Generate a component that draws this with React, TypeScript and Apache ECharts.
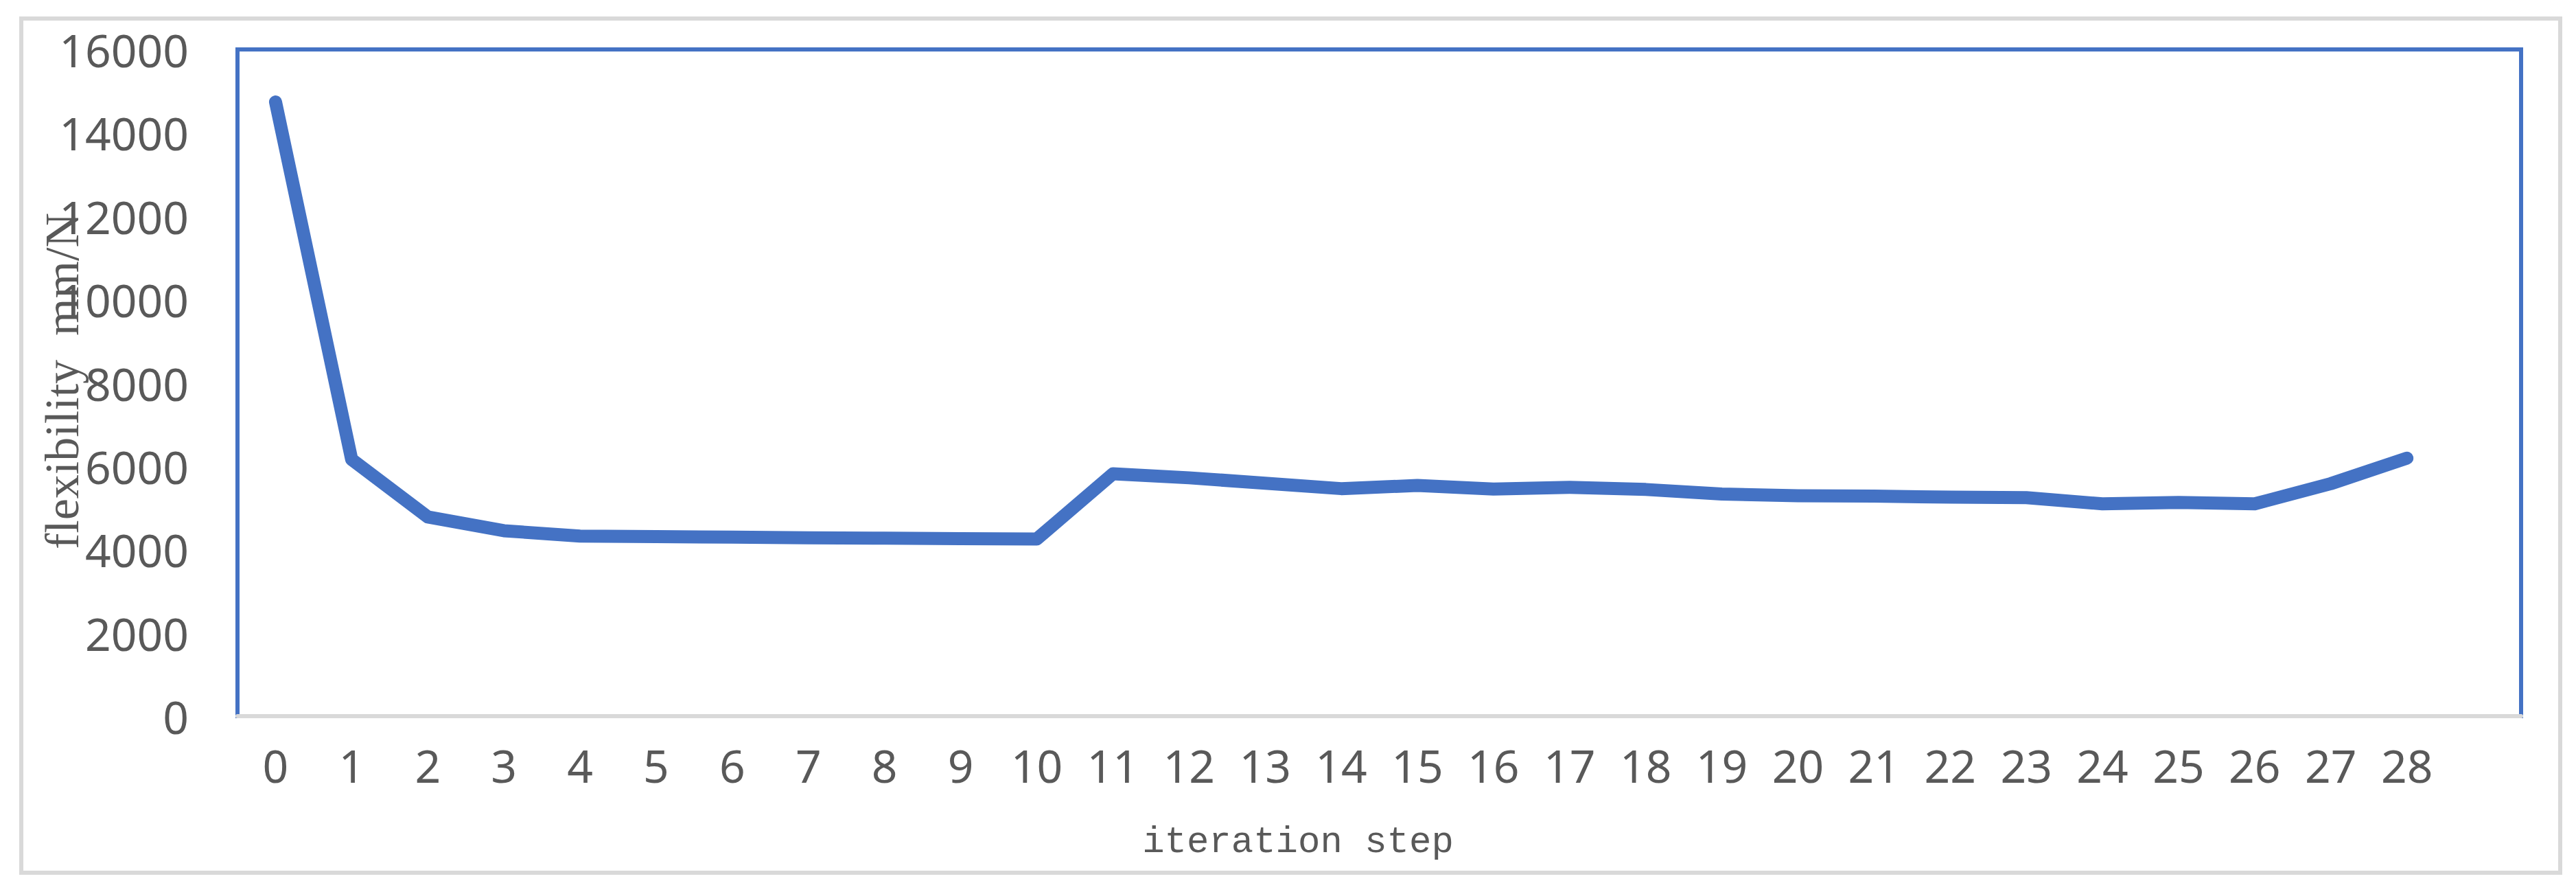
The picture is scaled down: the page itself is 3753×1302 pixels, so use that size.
import React, { useEffect, useRef } from "react";
import * as echarts from "echarts";

const categories = [
  "0", "1", "2", "3", "4", "5", "6", "7", "8", "9", "10", "11", "12", "13", "14",
  "15", "16", "17", "18", "19", "20", "21", "22", "23", "24", "25", "26", "27", "28", "",
];

const flexibility = [
  14740, 6160, 4780, 4450, 4320, 4310, 4295, 4280, 4270, 4260, 4250, 5815, 5720, 5590,
  5460, 5535, 5450, 5490, 5440, 5330, 5290, 5280, 5255, 5245, 5095, 5130, 5095, 5580, 6190,
];

const yMin = 0;
const yMax = 16000;
const yInterval = 2000;

const xTitle = "iteration step";
const yTitle = "flexibility  mm/N";

const W = 3753;
const H = 1302;

export default function App() {
  const ref = useRef<HTMLDivElement>(null);

  useEffect(() => {
    document.body.style.margin = "0";
    const chart = echarts.init(ref.current!, null, { renderer: "svg", width: W, height: H });
    const labelFont = "'Noto Sans', 'Open Sans', sans-serif";
    chart.setOption({
      animation: false,
      backgroundColor: "#ffffff",
      grid: {
        left: 346,
        right: W - 3673,
        top: 72,
        bottom: H - 1043,
        containLabel: false,
        outerBoundsMode: "none",
        show: true,
        borderColor: "#4472C4",
        borderWidth: 6,
        backgroundColor: "transparent",
      },
      xAxis: {
        type: "category",
        data: categories,
        boundaryGap: true,
        axisLine: { show: true, lineStyle: { color: "#d9d9d9", width: 6 } },
        axisTick: { show: false },
        splitLine: { show: false },
        axisLabel: {
          color: "#595959",
          fontSize: 66,
          fontFamily: labelFont,
          margin: 38,
          interval: 0,
        },
      },
      yAxis: {
        type: "value",
        min: yMin,
        max: yMax,
        interval: yInterval,
        axisLine: { show: false },
        axisTick: { show: false },
        splitLine: { show: false },
        axisLabel: {
          color: "#595959",
          fontSize: 66,
          fontFamily: labelFont,
          margin: 71,
          formatter: (v: number) => String(v),
        },
      },
      graphic: [
        {
          type: "rect",
          shape: { x: 31, y: 27, width: 3699, height: 1244 },
          style: { fill: "none", stroke: "#d9d9d9", lineWidth: 6 },
          silent: true,
          z: -10,
        },
        {
          type: "text",
          x: 1891,
          y: 1226,
          style: {
            text: xTitle,
            fill: "#595959",
            font: "54px 'Liberation Mono', monospace",
            align: "center",
            verticalAlign: "middle",
          },
        },
        {
          type: "text",
          x: 90,
          y: 555,
          rotation: Math.PI / 2,
          style: {
            text: yTitle,
            fill: "#595959",
            font: "70px 'Liberation Serif', serif",
            align: "center",
            verticalAlign: "middle",
          },
        },
      ],
      series: [
        {
          type: "line",
          data: flexibility,
          symbol: "none",
          smooth: false,
          lineStyle: { color: "#4472C4", width: 19, cap: "round", join: "round" },
          z: 3,
        },
      ],
    });
    return () => chart.dispose();
  }, []);

  return <div ref={ref} style={{ width: W, height: H }} />;
}
